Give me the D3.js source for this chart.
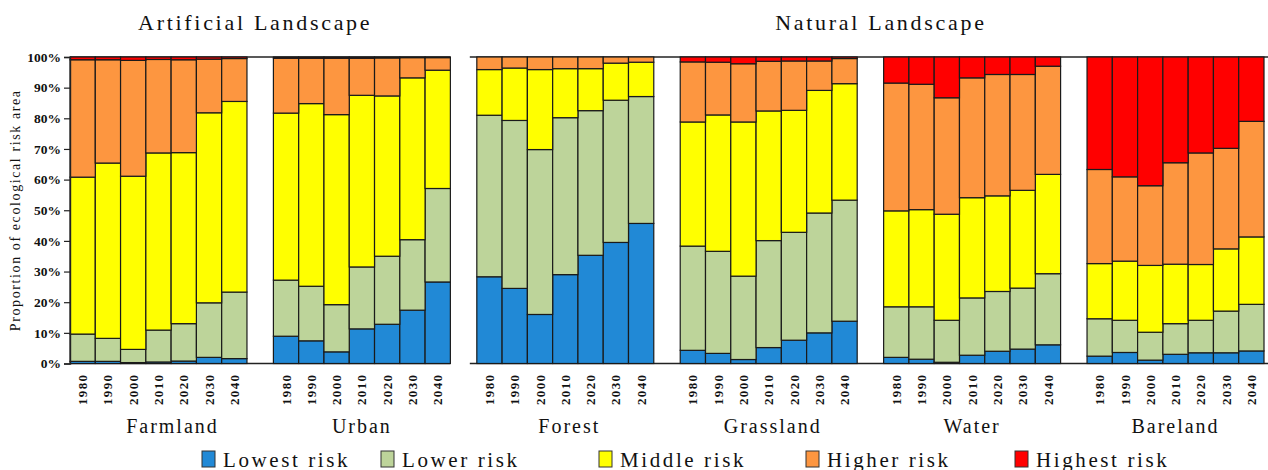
<!DOCTYPE html>
<html>
<head>
<meta charset="utf-8">
<script src="https://cdn.jsdelivr.net/npm/d3@7"></script>
<style>
  html, body { margin: 0; padding: 0; background: #fff; }
  svg { display: block; }
  text { font-family: "Liberation Serif", "Times New Roman", Times, serif; fill: #111; }
</style>
</head>
<body>
<svg id="chart" width="1268" height="470"></svg>
<script>
// Years shown under every panel
const years = ["1980", "1990", "2000", "2010", "2020", "2030", "2040"];
// Landscape panels, left to right
const landscapes = ["Farmland", "Urban", "Forest", "Grassland", "Water", "Bareland"];
// Panel groups and which group each landscape belongs to
const groupNames = ["Artificial Landscape", "Natural Landscape"];
const landscapeGroup = [0, 0, 1, 1, 1, 1];
// Risk levels (stack order, bottom to top)
const riskLevels = ["Lowest risk", "Lower risk", "Middle risk", "Higher risk", "Highest risk"];
// Y-axis ticks (%)
const yTicks = [0, 10, 20, 30, 40, 50, 60, 70, 80, 90, 100];

// Share of area (%) per risk level: one row per landscape, one value per year
const lowestRisk = [
  [0.7, 0.7, 0.3, 0.5, 0.8, 2.0, 1.6],
  [8.9, 7.4, 3.8, 11.3, 12.8, 17.4, 26.6],
  [28.3, 24.5, 16.0, 29.0, 35.3, 39.5, 45.7],
  [4.3, 3.3, 1.3, 5.2, 7.6, 10.0, 13.8],
  [2.0, 1.4, 0.4, 2.7, 4.0, 4.7, 6.1],
  [2.4, 3.6, 1.1, 3.0, 3.5, 3.5, 4.1]
];
const lowerRisk = [
  [8.9, 7.5, 4.3, 10.4, 12.2, 17.8, 21.7],
  [18.3, 17.8, 15.4, 20.2, 22.2, 23.0, 30.5],
  [52.7, 54.8, 53.8, 51.2, 47.2, 46.4, 41.4],
  [34.0, 33.3, 27.2, 34.9, 35.2, 39.1, 39.5],
  [16.5, 17.1, 13.7, 18.7, 19.5, 19.9, 23.2],
  [12.2, 10.5, 9.1, 10.0, 10.6, 13.6, 15.2]
];
const middleRisk = [
  [51.2, 57.2, 56.5, 57.8, 55.8, 62.0, 62.2],
  [54.5, 59.6, 62.0, 56.0, 52.3, 52.8, 38.6],
  [14.9, 17.1, 26.1, 16.0, 13.7, 12.1, 11.2],
  [40.5, 44.5, 50.3, 42.3, 39.8, 40.0, 38.0],
  [31.3, 31.7, 34.6, 32.7, 31.2, 31.9, 32.4],
  [18.0, 19.3, 21.8, 19.4, 18.2, 20.3, 22.0]
];
const higherRisk = [
  [38.3, 33.7, 37.8, 30.5, 30.3, 17.5, 14.0],
  [17.9, 14.8, 18.4, 12.1, 12.4, 6.6, 4.1],
  [4.1, 3.6, 4.1, 3.8, 3.8, 2.0, 1.7],
  [19.6, 17.2, 19.0, 16.2, 16.1, 9.6, 8.2],
  [41.7, 40.9, 38.0, 39.1, 39.6, 37.8, 35.3],
  [30.7, 27.5, 26.0, 33.1, 36.4, 32.8, 37.7]
];
const highestRisk = [
  [0.9, 0.9, 1.1, 0.8, 0.9, 0.7, 0.5],
  [0.4, 0.4, 0.4, 0.4, 0.3, 0.2, 0.2],
  [0, 0, 0, 0, 0, 0, 0],
  [1.6, 1.7, 2.2, 1.4, 1.3, 1.3, 0.5],
  [8.5, 8.9, 13.3, 6.8, 5.7, 5.7, 3.0],
  [36.7, 39.1, 42.0, 34.5, 31.3, 29.8, 21.0]
];

// Fill colour per risk level
const riskColors = ["#2189d6", "#bdd49a", "#ffff00", "#fd9640", "#ff0000"];

const seriesByLevel = [lowestRisk, lowerRisk, middleRisk, higherRisk, highestRisk];

const SERIF = "'Liberation Serif', 'Times New Roman', Times, serif";
const svg = d3.select("#chart");
const plotTop = 57, plotBottom = 363.5;

const y = d3.scaleLinear().domain([0, 100]).range([plotBottom, plotTop]);

// One band per landscape panel
const panel = d3.scaleBand()
  .domain(landscapes)
  .range([70, 1264])
  .paddingInner(0.13)
  .paddingOuter(0);

const stack = d3.stack().keys(riskLevels);

// Frame lines spanning each group of panels, with the group title above
const titleDx = [-5, 12];
groupNames.forEach((g, gi) => {
  const members = landscapes.filter((_, i) => landscapeGroup[i] === gi);
  const x0 = panel(members[0]) - (gi === 0 ? 0 : 7);
  const x1 = panel(members[members.length - 1]) + panel.bandwidth() + (gi === 0 ? 0 : 4);
  [plotTop, plotBottom].forEach(yy => {
    svg.append("line")
      .attr("x1", x0).attr("x2", x1)
      .attr("y1", yy).attr("y2", yy)
      .attr("stroke", "#222").attr("stroke-width", 1.4);
  });
  svg.append("text")
    .attr("x", (x0 + x1) / 2 + titleDx[gi])
    .attr("y", 30)
    .attr("text-anchor", "middle")
    .style("font-family", SERIF)
    .style("font-size", "22px")
    .style("letter-spacing", "2.7px")
    .text(g);
});

const labelDx = [14, 0, 4, 4, 0, 0];

landscapes.forEach((name, li) => {
  const rows = years.map((yr, j) => {
    const r = { year: yr };
    riskLevels.forEach((lvl, k) => { r[lvl] = seriesByLevel[k][li][j]; });
    return r;
  });
  const x = d3.scaleBand()
    .domain(years)
    .range([panel(name), panel(name) + panel.bandwidth()])
    .padding(0);

  const g = svg.append("g");
  const layers = stack(rows);
  g.selectAll("g.layer")
    .data(layers)
    .join("g")
    .attr("class", "layer")
    .attr("fill", (d, i) => riskColors[i])
    .selectAll("rect")
    .data(d => d.filter(p => p[1] - p[0] > 0))
    .join("rect")
    .attr("x", d => x(d.data.year))
    .attr("width", x.bandwidth())
    .attr("y", d => y(d[1]))
    .attr("height", d => y(d[0]) - y(d[1]))
    .attr("stroke", "#1a1a1a")
    .attr("stroke-width", 1.2);

  // Year labels
  const ax = g.append("g")
    .attr("transform", `translate(0,${plotBottom + 10})`)
    .call(d3.axisBottom(x).tickSize(0).tickPadding(0));
  ax.select(".domain").remove();
  ax.selectAll("text")
    .attr("transform", "rotate(-90)")
    .attr("x", 0).attr("y", 0).attr("dy", "0.35em")
    .attr("text-anchor", "end")
    .style("font-family", SERIF)
    .style("font-size", "13px")
    .style("font-weight", "bold")
    .style("letter-spacing", "1.4px")
    .style("fill", "#111");

  // Panel name
  svg.append("text")
    .attr("x", panel(name) + panel.bandwidth() / 2 + labelDx[li])
    .attr("y", 433)
    .attr("text-anchor", "middle")
    .style("font-family", SERIF)
    .style("font-size", "20px")
    .style("letter-spacing", "2px")
    .text(name);
});

// Y axis
const yAxis = svg.append("g")
  .attr("transform", "translate(70,0)")
  .call(d3.axisLeft(y).tickValues(yTicks).tickFormat(d => d + "%").tickSize(6).tickPadding(3));
yAxis.select(".domain").attr("stroke", "#222").attr("stroke-width", 1.4);
yAxis.selectAll(".tick line").attr("stroke", "#222").attr("stroke-width", 1.2);
yAxis.selectAll("text")
  .style("font-family", SERIF)
  .style("font-size", "13.5px")
  .style("font-weight", "bold")
  .style("fill", "#111");

svg.append("text")
  .attr("transform", `translate(20,${(plotTop + plotBottom) / 2}) rotate(-90)`)
  .attr("text-anchor", "middle")
  .style("font-family", SERIF)
  .style("font-size", "14px")
  .style("letter-spacing", "1.6px")
  .text("Proportion of ecological risk area");

// Legend
const legendX = [202, 381, 599, 806, 1015];
const legend = svg.append("g")
  .selectAll("g")
  .data(riskLevels)
  .join("g")
  .attr("transform", (d, i) => `translate(${legendX[i]},451)`);
legend.append("rect")
  .attr("width", 13).attr("height", 16)
  .attr("fill", (d, i) => riskColors[i])
  .attr("stroke", "#333").attr("stroke-width", 1);
legend.append("text")
  .attr("x", 21).attr("y", 15.5)
  .style("font-family", SERIF)
  .style("font-size", "21px")
  .style("letter-spacing", "2.6px")
  .text(d => d);
</script>
</body>
</html>
